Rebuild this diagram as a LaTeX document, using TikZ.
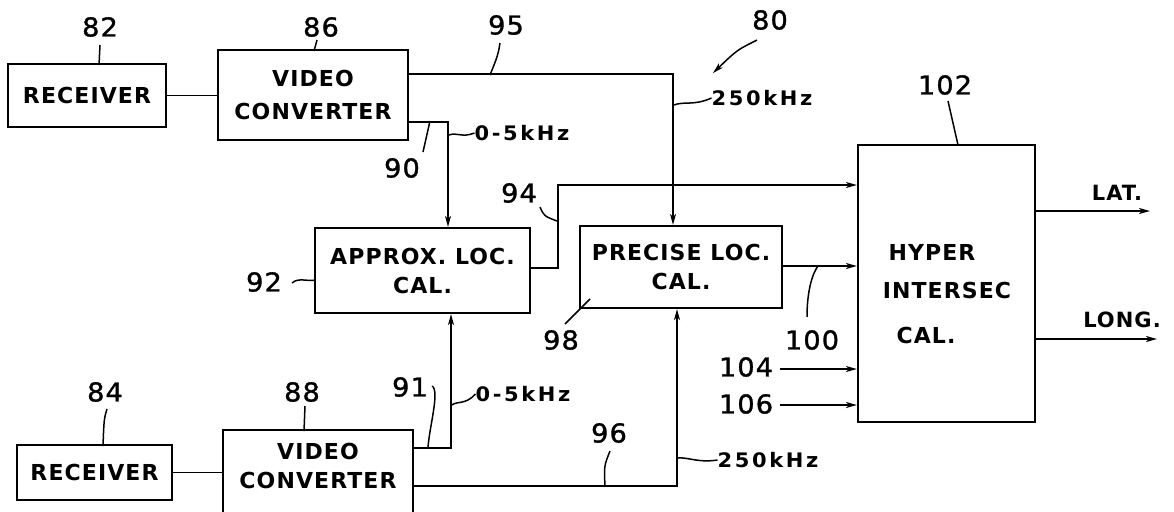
\documentclass[tikz,border=0pt]{standalone}
\usepackage{fontspec}
\newfontfamily\labfont[LetterSpace=5]{DejaVu Sans}
\newfontfamily\numfont[FakeStretch=1.05,LetterSpace=4,FakeBold=1.2]{DejaVu Sans}
\newfontfamily\khzfont[FakeStretch=1.05,LetterSpace=13]{DejaVu Sans}
\usetikzlibrary{arrows.meta}
\tikzset{
  box/.style={draw, line width=2.2pt, inner sep=0pt, align=center,
    font=\labfont\bfseries\fontsize{22}{29}\selectfont},
  txt/.style={inner sep=0pt, align=center,
    font=\labfont\bfseries\fontsize{22}{29}\selectfont},
  num/.style={inner sep=0pt, font=\numfont\fontsize{26}{26}\selectfont},
  khz/.style={inner sep=0pt, font=\khzfont\bfseries\fontsize{20}{20}\selectfont},
  wire/.style={line width=1.8pt},
  arr/.style={wire, -{Stealth[length=11pt,width=6pt,inset=3pt]}},
  lead/.style={line width=1.5pt},
}
\begin{document}
\begin{tikzpicture}[x=1pt,y=-1pt]
\useasboundingbox (0,0) rectangle (1174,511);
\clip (0,0) rectangle (1174,511);
% boxes
\node[box, minimum width=158pt, minimum height=63pt] (rec1) at (87,95.5) {RECEIVER};
\node[box, minimum width=190pt, minimum height=90pt] (vc1) at (313,95) {VIDEO\\[4pt]CONVERTER};
\node[box, minimum width=215pt, minimum height=85pt] (apx) at (422.5,270.5) {APPROX. LOC.\\CAL.};
\node[box, minimum width=202pt, minimum height=82pt] (pre) at (681,267) {PRECISE LOC.\\CAL.};
\node[box, minimum width=177pt, minimum height=277pt] (hyp) at (946.5,283.5) {};
\node[txt] (h1) at (932,252) {HYPER};
\node[txt] (h2) at (947,290) {INTERSEC};
\node[txt] (h3) at (926,335) {CAL.};
\node[box, minimum width=155pt, minimum height=55pt] (rec2) at (94.5,472.5) {RECEIVER};
\node[box, minimum width=190pt, minimum height=100pt] (vc2) at (318,480) {};
\node[txt] (vc2t) at (318,466) {VIDEO\\CONVERTER};
% junction coordinates
\coordinate (j95) at (673,74);
\coordinate (j90) at (448,122);
\coordinate (j94a) at (558,268);
\coordinate (j94b) at (558,185);
\coordinate (y100) at (0,266);
\coordinate (lat) at (1150,211);
\coordinate (long) at (1157,339);
\coordinate (a104) at (780,369);
\coordinate (a106) at (780,405);
\coordinate (j91) at (451,448);
\coordinate (j96) at (677,486);
% wires
\draw[wire] (rec1.east) -- (rec1.east -| vc1.west);
\draw[wire] (rec2.east) -- (rec2.east -| vc2.west);
\draw[arr] (vc1.east |- j95) -- (j95) -- (j95 |- pre.north);
\draw[arr] (vc1.east |- j90) -- (j90) -- (j90 |- apx.north);
\draw[arr] (apx.east |- j94a) -- (j94a) -- (j94b) -- (j94b -| hyp.west);
\draw[arr] (pre.east |- y100) -- (hyp.west |- y100);
\draw[arr] (hyp.east |- lat) -- (lat);
\draw[arr] (hyp.east |- long) -- (long);
\draw[arr] (a104) -- (a104 -| hyp.west);
\draw[arr] (a106) -- (a106 -| hyp.west);
\draw[arr] (vc2.east |- j91) -- (j91) -- (j91 |- apx.south);
\draw[arr] (vc2.east |- j96) -- (j96) -- (j96 |- pre.south);
% reference numerals
\node[num] (n82) at (100,27) {82};
\draw[lead] (n82.south) ++(0,8) -- ++(-1,20);
\node[num] (n86) at (321,27) {86};
\draw[lead] (n86.south) ++(-4,3) -- ++(-3,11);
\node[num] (n95) at (506,25) {95};
\draw[lead] (n95.south) ++(-6,8) .. controls ++(-2,12) .. ++(-10,32);
\node[num] (n80) at (770,20) {80};
\draw[arr, line width=1.5pt] (n80.south) ++(-13,10) .. controls ++(-20,10) .. ++(-44,33);
\node[num] (n90) at (402,168) {90};
\draw[lead] (n90.north) ++(21,-6) -- ++(7,-31);
\node[num] (n94) at (519,193) {94};
\draw[lead] (n94.south) ++(21,4) .. controls ++(4,9) .. ++(17,14);
\node[num] (n92) at (264,282) {92};
\draw[lead] (n92.east) ++(10,1) .. controls ++(6,-6) and ++(-6,2) .. ++(23,-3);
\node[num] (n98) at (561,340) {98};
\draw[lead] (n98.north) ++(4,-6) -- ++(25,-25);
\node[num] (n100) at (812,340) {100};
\draw[lead] (n100.north) ++(-5,-13) .. controls ++(0,-25) and ++(-6,8) .. ++(11,-51);
\node[num] (n102) at (945,85) {102};
\draw[lead] (n102.south) ++(3,6) -- (958,145);
\node[num] (n104) at (746,367) {104};
\node[num] (n106) at (746,404) {106};
\node[num] (n84) at (105,392) {84};
\draw[lead] (n84.south) ++(2,7) .. controls ++(-3,10) .. ++(-4,37);
\node[num] (n88) at (302,392) {88};
\draw[lead] (n88.south) ++(3,4) -- ++(-1,25);
\node[num] (n91) at (410,387) {91};
\draw[lead] (n91.east) ++(4,-1) .. controls ++(8,5) and ++(1,-20) .. (j91 -| 428,0);
\node[num] (n96) at (609,433) {96};
\draw[lead] (n96.south) ++(1,8) .. controls ++(-6,15) .. (j96 -| 605,0);
% frequency labels
\node[khz] (f1) at (522,133) {0-5kHz};
\draw[lead] (449,135) .. controls (457,132) and (462,138) .. (f1.west);
\node[khz] (f2) at (762,98) {250kHz};
\draw[lead] (674,105) .. controls (684,101) and (694,106) .. (f2.west);
\node[khz] (f3) at (523,394) {0-5kHz};
\draw[lead] (452,405) .. controls (456,401) and (466,405) .. (f3.west);
\node[khz] (f4) at (768,460) {250kHz};
\draw[lead] (678,458) .. controls (688,457) and (698,463) .. (f4.west);
% outputs
\node[txt, font=\labfont\bfseries\fontsize{21}{21}\selectfont] (lt) at (1117,193) {LAT.};
\node[txt, font=\labfont\bfseries\fontsize{21}{21}\selectfont] (lg) at (1122,320) {LONG.};
\end{tikzpicture}
\end{document}
